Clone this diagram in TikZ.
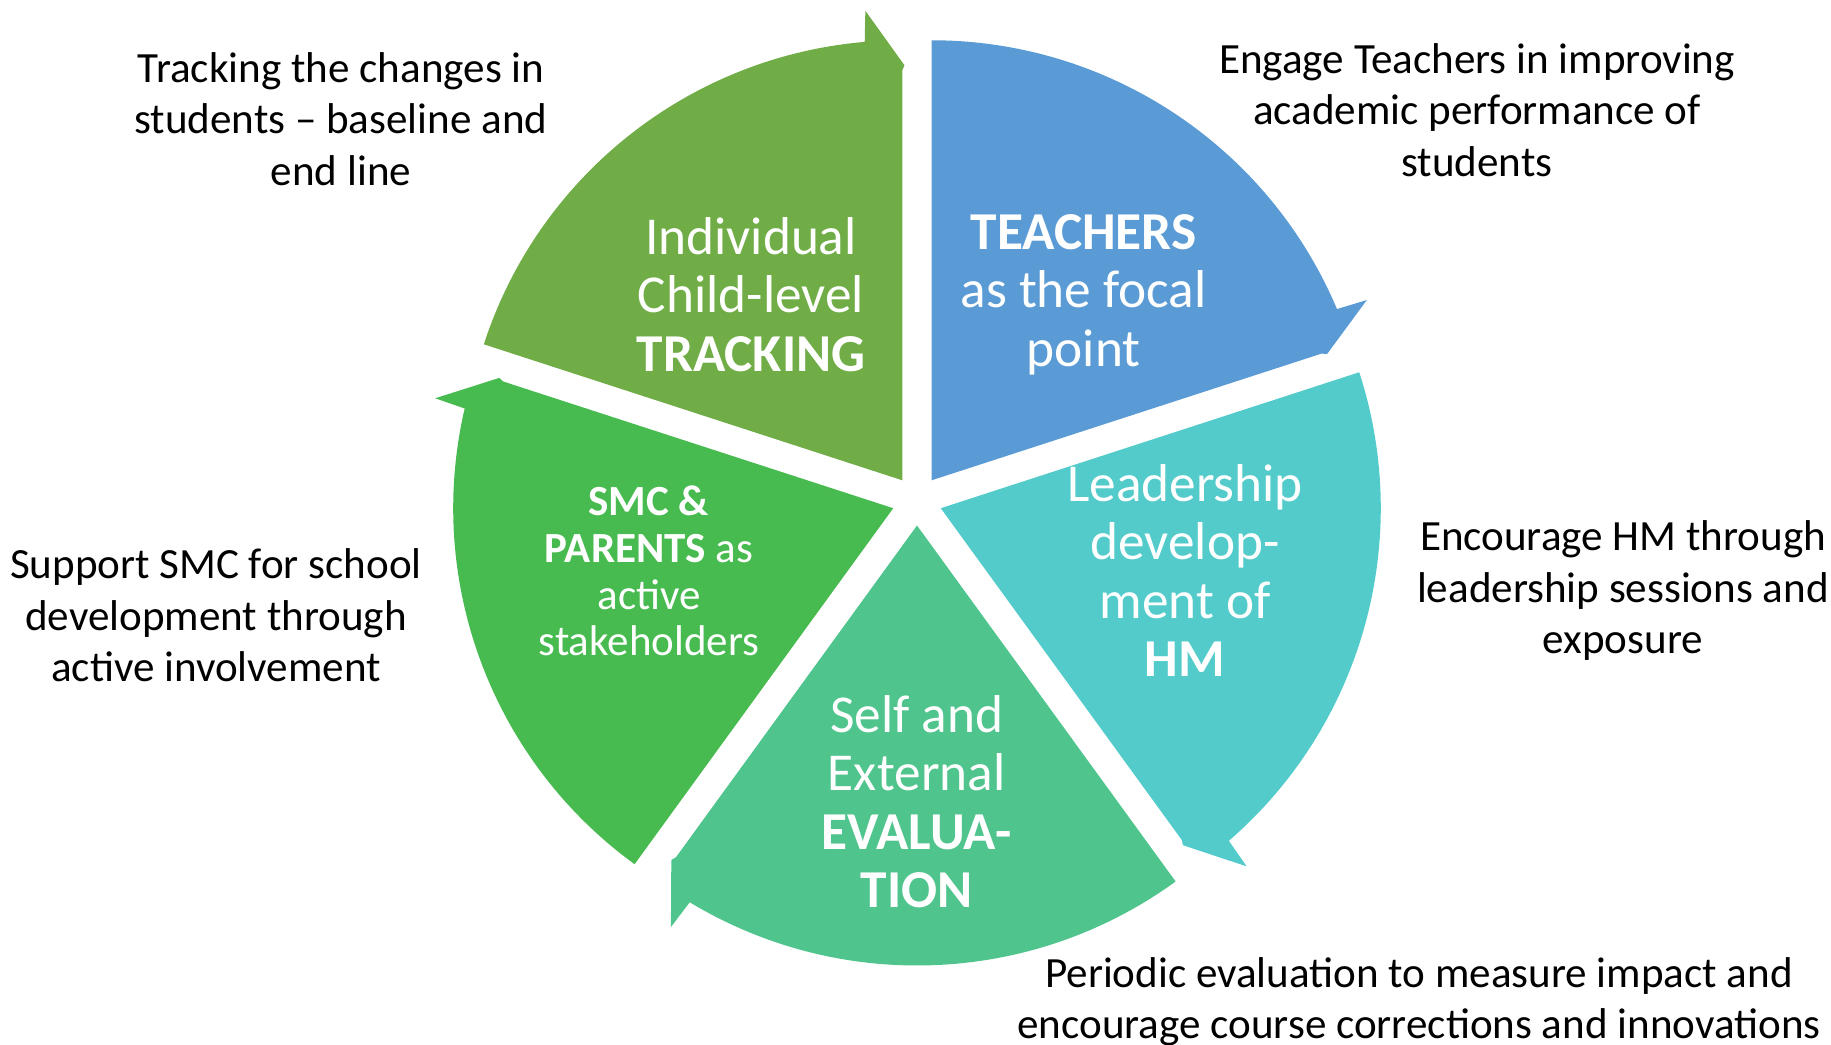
\documentclass[tikz,border=0pt]{standalone}
\usepackage{fontspec}
\setmainfont{Carlito}
\definecolor{cOlive}{HTML}{70AD47}
\definecolor{cBlue}{HTML}{5B9BD5}
\definecolor{cTeal}{HTML}{53CBCB}
\definecolor{cSea}{HTML}{4FC48D}
\definecolor{cGreen}{HTML}{48BB50}
\tikzset{
  segtext/.style={text=white, align=center, inner sep=0pt, font=\fontsize{53.3}{58.4}\selectfont},
  segsmall/.style={text=white, align=center, inner sep=0pt, font=\fontsize{43}{46.7}\selectfont},
  outtext/.style={text=black, align=center, inner sep=0pt, font=\fontsize{43.1}{51.4}\selectfont},
}
\newcommand{\wedgeseg}[2]{% #1 start angle, #2 colour
  \pgfmathsetmacro{\wbis}{#1-36}
  \pgfmathsetmacro{\wend}{#1-72}
  \begin{scope}[shift={(\wbis:25pt)}]
    \fill[#2] (0,0) -- (#1:440pt)
      arc[start angle=#1, end angle=\wend+4.9, radius=440pt]
      -- (\wend+4.5:471pt) -- (\wend-0.3:415pt) -- (\wend:410pt) -- cycle;
  \end{scope}
}
\begin{document}
\begin{tikzpicture}[x=1pt,y=1pt]
\useasboundingbox (-917pt,-543.5pt) rectangle (914pt,500.5pt);
\clip (-917pt,-543.5pt) rectangle (914pt,500.5pt);
\wedgeseg{162}{cOlive}
\wedgeseg{90}{cBlue}
\wedgeseg{18}{cTeal}
\wedgeseg{-54}{cSea}
\wedgeseg{-126}{cGreen}

\node[segtext] (tracking) at (-166pt,206pt) {Individual\\Child-level\\\textbf{TRACKING}};
\node[segtext] (teachers) at (166.6pt,206pt) {\textbf{TEACHERS}\\as the focal\\point};
\node[segtext] (hm) at (268pt,-70pt) {Leadership\\develop-\\ment of\\\textbf{HM}};
\node[segtext] (eval) at (-0.4pt,-301pt) {Self and\\External\\\textbf{EVALUA-}\\\textbf{TION}};
\node[segsmall] (smc) at (-268pt,-70.5pt) {\textbf{SMC \&}\\\textbf{PARENTS} as\\active\\stakeholders};

\node[outtext] (ltrack) at (-576pt,381.5pt) {Tracking the changes in\\students -- baseline and\\end line};
\node[outtext] (lteach) at (560pt,390.7pt) {Engage Teachers in improving\\academic performance of\\students};
\node[outtext] (lhm) at (706pt,-90.4pt) {Encourage HM through\\leadership sessions and\\exposure};
\node[outtext] (leval) at (502pt,-501pt) {Periodic evaluation to measure impact and\\encourage course corrections and innovations};
\node[outtext] (lsmc) at (-701pt,-114.9pt) {Support SMC for school\\development through\\active involvement};
\end{tikzpicture}
\end{document}
